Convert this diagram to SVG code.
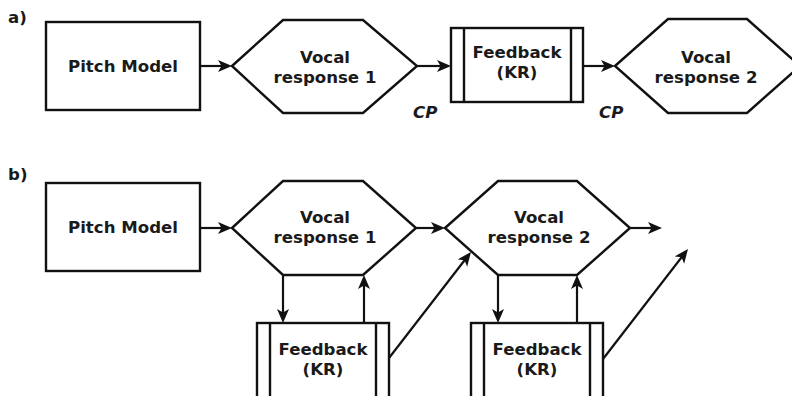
<svg xmlns="http://www.w3.org/2000/svg" width="792" height="396" viewBox="0 0 792 396">
<style>
.shape{fill:#fff;stroke:#111;stroke-width:2.4}
.ln{fill:none;stroke:#111;stroke-width:2.4}
.conn{fill:none;stroke:#111;stroke-width:2.2;marker-end:url(#ah)}
text{font-family:"DejaVu Sans",sans-serif;font-weight:bold;font-size:16.6px;fill:#1a1a1a;text-anchor:middle}
.lbl{text-anchor:start}
.cp{font-style:italic;text-anchor:start}
</style>
<defs>
<marker id="ah" markerUnits="userSpaceOnUse" markerWidth="16" markerHeight="14" refX="7" refY="6" orient="auto">
<path d="M0,0 L14,6 L0,12 L3.5,6 z" fill="#111"/>
</marker>
</defs>
<rect width="792" height="396" fill="#fff"/>
<text class="lbl" x="8" y="23">a)</text>
<text class="lbl" x="8" y="180">b)</text>

<g id="a_pitch">
<rect class="shape" x="46" y="22" width="154" height="88"/>
<text x="123" y="72">Pitch Model</text>
</g>
<g id="a_vocal1">
<polygon class="shape" points="232,66 283,20 363,20 417,66 363,113 283,113"/>
<text x="325" y="63">Vocal</text>
<text x="325" y="83">response 1</text>
</g>
<g id="a_feedback">
<rect class="shape" x="451" y="28" width="132" height="74"/>
<line class="ln" x1="464" y1="28" x2="464" y2="102"/>
<line class="ln" x1="571" y1="28" x2="571" y2="102"/>
<text x="517" y="58">Feedback</text>
<text x="517" y="78">(KR)</text>
</g>
<g id="a_vocal2">
<polygon class="shape" points="615,66 668,19 747,19 800,66 747,113 668,113"/>
<text x="706" y="63">Vocal</text>
<text x="706" y="83">response 2</text>
</g>
<text class="cp" x="413" y="118">CP</text>
<text class="cp" x="599" y="118">CP</text>

<g id="b_pitch">
<rect class="shape" x="46" y="183" width="154" height="88"/>
<text x="123" y="233">Pitch Model</text>
</g>
<g id="b_vocal1">
<polygon class="shape" points="232,228 283,181 363,181 416,228 363,275 283,275"/>
<text x="325" y="223">Vocal</text>
<text x="325" y="243">response 1</text>
</g>
<g id="b_vocal2">
<polygon class="shape" points="445,228 498,181 577,181 630,228 577,275 498,275"/>
<text x="539" y="223">Vocal</text>
<text x="539" y="243">response 2</text>
</g>
<g id="b_feedback1">
<rect class="shape" x="257" y="323" width="132" height="76"/>
<line class="ln" x1="270" y1="323" x2="270" y2="399"/>
<line class="ln" x1="376" y1="323" x2="376" y2="399"/>
<text x="323" y="355">Feedback</text>
<text x="323" y="375">(KR)</text>
</g>
<g id="b_feedback2">
<rect class="shape" x="471" y="323" width="132" height="76"/>
<line class="ln" x1="484" y1="323" x2="484" y2="399"/>
<line class="ln" x1="590" y1="323" x2="590" y2="399"/>
<text x="537" y="355">Feedback</text>
<text x="537" y="375">(KR)</text>
</g>

<g id="connectors">
<line class="conn" x1="200" y1="66" x2="225" y2="66"/>
<line class="conn" x1="417" y1="66" x2="444" y2="66"/>
<line class="conn" x1="583" y1="66" x2="608" y2="66"/>
<line class="conn" x1="200" y1="228" x2="225" y2="228"/>
<line class="conn" x1="416" y1="228" x2="438" y2="228"/>
<line class="conn" x1="630" y1="228" x2="655" y2="228"/>
<line class="conn" x1="283" y1="275" x2="283" y2="316"/>
<line class="conn" x1="364" y1="323" x2="364" y2="282"/>
<line class="conn" x1="498" y1="275" x2="498" y2="316"/>
<line class="conn" x1="577" y1="323" x2="577" y2="282"/>
<line class="conn" x1="389" y1="358" x2="466.7" y2="257.5"/>
<line class="conn" x1="603" y1="359" x2="683.7" y2="254.5"/>
</g>
</svg>
